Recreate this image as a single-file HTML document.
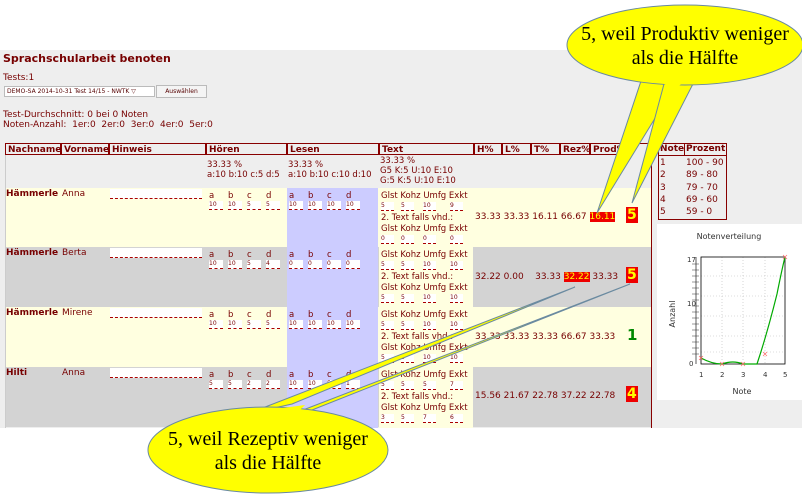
<!DOCTYPE html>
<html><head><meta charset="utf-8"><style>
body{margin:0;width:802px;height:494px;position:relative;overflow:hidden;background:#fff;font-family:"DejaVu Sans","Liberation Sans",sans-serif;color:#700;}
.a{position:absolute;white-space:nowrap;}
.s{font-size:9px;}
.t{font-size:8.5px;line-height:10px;}
.b{font-weight:bold;}
.r{position:absolute;}
.inp{display:inline-block;width:14px;height:8px;background:#fff;border-bottom:1px dashed #a00;font-size:6px;line-height:8px;margin-right:5px;vertical-align:top;}
.q{display:inline-block;width:13px;height:8px;background:#fff;border-bottom:1px dashed #a00;font-size:6px;line-height:8px;vertical-align:top;}
.hd{position:absolute;top:143px;height:12px;border:1px solid #800;font-size:9px;font-weight:bold;line-height:12px;padding-left:2px;box-sizing:border-box;background:#eee;}
.l{display:inline-block;width:19px;}
</style></head><body>
<div class="r" style="left:0;top:50px;width:802px;height:378px;background:#eee"></div>
<div class="a b" style="left:3px;top:52px;font-size:11px">Sprachschularbeit benoten</div>
<div class="a s" style="left:3px;top:73px">Tests:1</div>
<div class="a" style="left:4px;top:86px;width:147px;height:9px;border:1px solid #bbb;background:#fff;font-size:6px;line-height:9px;padding-left:2px;color:#500">DEMO-SA 2014-10-31 Test 14/15 - NWTK ▽</div>
<div class="a" style="left:156px;top:85px;width:49px;height:11px;border:1px solid #bbb;background:#f4f4f4;font-size:6px;line-height:11px;text-align:center;color:#500">Auswählen</div>
<div class="a s" style="left:3px;top:110px;line-height:10px">Test-Durchschnitt: 0 bei 0 Noten<br>Noten-Anzahl: &nbsp;1er:0 &nbsp;2er:0 &nbsp;3er:0 &nbsp;4er:0 &nbsp;5er:0</div>

<div class="hd" style="left:5px;width:56px">Nachname</div>
<div class="hd" style="left:61px;width:48px">Vorname</div>
<div class="hd" style="left:109px;width:97px">Hinweis</div>
<div class="hd" style="left:206px;width:81px">Hören</div>
<div class="hd" style="left:287px;width:92px">Lesen</div>
<div class="hd" style="left:379px;width:95px">Text</div>
<div class="hd" style="left:474px;width:28px">H%</div>
<div class="hd" style="left:502px;width:29px">L%</div>
<div class="hd" style="left:531px;width:29px">T%</div>
<div class="hd" style="left:560px;width:30px">Rez%</div>
<div class="hd" style="left:590px;width:35px">Prod%</div>
<div class="r" style="left:5px;top:155px;width:1px;height:273px;background:#ccc"></div>
<div class="r" style="left:651px;top:143px;width:1px;height:285px;background:#800"></div>
<div class="r" style="left:625px;top:143px;width:26px;height:12px;border-top:1px solid #800;box-sizing:border-box"></div>
<div class="a t" style="left:207px;top:160px">33.33 %<br>a:10 b:10 c:5 d:5</div>
<div class="a t" style="left:288px;top:160px">33.33 %<br>a:10 b:10 c:10 d:10</div>
<div class="a t" style="left:380px;top:156px">33.33 %<br>G5 K:5 U:10 E:10<br>G:5 K:5 U:10 E:10</div>

<div class="r" style="left:6px;top:188px;width:645px;height:59px;background:#ffffe0"></div>
<div class="r" style="left:6px;top:247px;width:645px;height:60px;background:#d3d3d3"></div>
<div class="r" style="left:6px;top:307px;width:645px;height:60px;background:#ffffe0"></div>
<div class="r" style="left:6px;top:367px;width:645px;height:60px;background:#d3d3d3"></div>
<div class="r" style="left:287px;top:188px;width:91px;height:240px;background:#ccf"></div>
<div class="r" style="left:379px;top:188px;width:94px;height:240px;background:#ffffe0"></div>

<div class="a s b" style="left:6px;top:189px">Hämmerle</div><div class="a s" style="left:62px;top:189px">Anna</div>
<div class="a s b" style="left:6px;top:248px">Hämmerle</div><div class="a s" style="left:62px;top:248px">Berta</div>
<div class="a s b" style="left:6px;top:308px">Hämmerle</div><div class="a s" style="left:62px;top:308px">Mirene</div>
<div class="a s b" style="left:6px;top:368px">Hilti</div><div class="a s" style="left:62px;top:368px">Anna</div>
<div class="r" style="left:110px;top:189px;width:92px;height:9px;background:#fff;border-bottom:1px dashed #a00"></div>
<div class="r" style="left:110px;top:248px;width:92px;height:9px;background:#fff;border-bottom:1px dashed #a00"></div>
<div class="r" style="left:110px;top:308px;width:92px;height:9px;background:#fff;border-bottom:1px dashed #a00"></div>
<div class="r" style="left:110px;top:368px;width:92px;height:9px;background:#fff;border-bottom:1px dashed #a00"></div>

<div class="a t" style="left:209px;top:191px"><span class="l">a</span><span class="l">b</span><span class="l">c</span><span class="l">d</span><br><span class="inp">10</span><span class="inp">10</span><span class="inp">5</span><span class="inp">5</span></div>
<div class="a t" style="left:289px;top:191px"><span class="l">a</span><span class="l">b</span><span class="l">c</span><span class="l">d</span><br><span class="inp">10</span><span class="inp">10</span><span class="inp">10</span><span class="inp">10</span></div>
<div class="a t" style="left:209px;top:250px"><span class="l">a</span><span class="l">b</span><span class="l">c</span><span class="l">d</span><br><span class="inp">10</span><span class="inp">10</span><span class="inp">5</span><span class="inp">4</span></div>
<div class="a t" style="left:289px;top:250px"><span class="l">a</span><span class="l">b</span><span class="l">c</span><span class="l">d</span><br><span class="inp">0</span><span class="inp">0</span><span class="inp">0</span><span class="inp">0</span></div>
<div class="a t" style="left:209px;top:310px"><span class="l">a</span><span class="l">b</span><span class="l">c</span><span class="l">d</span><br><span class="inp">10</span><span class="inp">10</span><span class="inp">5</span><span class="inp">5</span></div>
<div class="a t" style="left:289px;top:310px"><span class="l">a</span><span class="l">b</span><span class="l">c</span><span class="l">d</span><br><span class="inp">10</span><span class="inp">10</span><span class="inp">10</span><span class="inp">10</span></div>
<div class="a t" style="left:209px;top:370px"><span class="l">a</span><span class="l">b</span><span class="l">c</span><span class="l">d</span><br><span class="inp">5</span><span class="inp">5</span><span class="inp">2</span><span class="inp">2</span></div>
<div class="a t" style="left:289px;top:370px"><span class="l">a</span><span class="l">b</span><span class="l">c</span><span class="l">d</span><br><span class="inp">10</span><span class="inp">10</span><span class="inp">5</span><span class="inp">1</span></div>

<div class="a t" style="left:381px;top:191px;line-height:11px">Glst Kohz Umfg Exkt<br><span class="q" style="margin-right:7px">5</span><span class="q" style="margin-right:9px">5</span><span class="q" style="margin-right:14px">10</span><span class="q">9</span><br>2. Text falls vhd.:<br>Glst Kohz Umfg Exkt<br><span class="q" style="margin-right:7px">0</span><span class="q" style="margin-right:9px">0</span><span class="q" style="margin-right:14px">0</span><span class="q">0</span></div>
<div class="a t" style="left:381px;top:250px;line-height:11px">Glst Kohz Umfg Exkt<br><span class="q" style="margin-right:7px">5</span><span class="q" style="margin-right:9px">5</span><span class="q" style="margin-right:14px">10</span><span class="q">10</span><br>2. Text falls vhd.:<br>Glst Kohz Umfg Exkt<br><span class="q" style="margin-right:7px">5</span><span class="q" style="margin-right:9px">5</span><span class="q" style="margin-right:14px">10</span><span class="q">10</span></div>
<div class="a t" style="left:381px;top:310px;line-height:11px">Glst Kohz Umfg Exkt<br><span class="q" style="margin-right:7px">5</span><span class="q" style="margin-right:9px">5</span><span class="q" style="margin-right:14px">10</span><span class="q">10</span><br>2. Text falls vhd.:<br>Glst Kohz Umfg Exkt<br><span class="q" style="margin-right:7px">5</span><span class="q" style="margin-right:9px">5</span><span class="q" style="margin-right:14px">10</span><span class="q">10</span></div>
<div class="a t" style="left:381px;top:370px;line-height:11px">Glst Kohz Umfg Exkt<br><span class="q" style="margin-right:7px">5</span><span class="q" style="margin-right:9px">5</span><span class="q" style="margin-right:14px">5</span><span class="q">7</span><br>2. Text falls vhd.:<br>Glst Kohz Umfg Exkt<br><span class="q" style="margin-right:7px">3</span><span class="q" style="margin-right:9px">5</span><span class="q" style="margin-right:14px">7</span><span class="q">6</span></div>

<div class="a s" style="left:475px;top:212px">33.33 33.33 16.11 66.67 <span style="background:#e00;color:#ff0">16.11</span></div>
<div class="a s" style="left:475px;top:272px">32.22 0.00 &nbsp;&nbsp;&nbsp;33.33 <span style="background:#e00;color:#ff0">32.22</span> 33.33</div>
<div class="a s" style="left:475px;top:332px">33.33 33.33 33.33 66.67 33.33</div>
<div class="a s" style="left:475px;top:391px">15.56 21.67 22.78 37.22 22.78</div>
<div class="a b" style="left:626px;top:207px;font-size:14px;line-height:16px;background:#e00;color:#ff0;padding:0 1px">5</div>
<div class="a b" style="left:626px;top:267px;font-size:14px;line-height:16px;background:#e00;color:#ff0;padding:0 1px">5</div>
<div class="a b" style="left:627px;top:327px;font-size:15px;line-height:16px;color:#080">1</div>
<div class="a b" style="left:626px;top:386px;font-size:14px;line-height:16px;background:#e00;color:#ff0;padding:0 1px">4</div>

<div class="r" style="left:658px;top:143px;width:69px;height:77px;border:1px solid #800;box-sizing:border-box"></div>
<div class="a s b" style="left:660px;top:144px">Note</div><div class="a s b" style="left:686px;top:144px">Prozent</div>
<div class="r" style="left:684px;top:144px;width:1px;height:11px;background:#800"></div>
<div class="r" style="left:659px;top:155px;width:67px;height:1px;background:#800"></div>
<div class="a s" style="left:660px;top:157px;line-height:12.3px">1<br>2<br>3<br>4<br>5</div>
<div class="a s" style="left:686px;top:157px;line-height:12.3px">100 - 90<br>89 - 80<br>79 - 70<br>69 - 60<br>59 - 0</div>

<svg class="r" style="left:657px;top:224px" width="145" height="176" viewBox="0 0 145 176">
<rect width="145" height="176" fill="#fff"/>
<text x="72" y="15" font-size="8" fill="#333" text-anchor="middle" font-family="DejaVu Sans">Notenverteilung</text>
<text x="18" y="90" font-size="8" fill="#333" text-anchor="middle" transform="rotate(-90 18 90)" font-family="DejaVu Sans">Anzahl</text>
<text x="85" y="170" font-size="8" fill="#333" text-anchor="middle" font-family="DejaVu Sans">Note</text>
<g stroke="#bbb" stroke-dasharray="1,2" stroke-width="0.6">
<line x1="65" y1="33" x2="65" y2="140"/><line x1="86" y1="33" x2="86" y2="140"/><line x1="108" y1="33" x2="108" y2="140"/>
<line x1="44" y1="52" x2="128" y2="52"/><line x1="44" y1="72" x2="128" y2="72"/><line x1="44" y1="92" x2="128" y2="92"/><line x1="44" y1="112" x2="128" y2="112"/><line x1="44" y1="128" x2="128" y2="128"/>
</g>
<rect x="44" y="33" width="84" height="107" fill="none" stroke="#000" stroke-width="0.8"/>
<line x1="39" y1="33" x2="39" y2="140" stroke="#333" stroke-width="0.8"/>
<g stroke="#333" stroke-width="0.6"><path d="M35 40h7M35 46h7M35 52h7M35 58h7M35 64h7M35 70h7M35 76h7M35 82h7M35 88h7M35 94h7M35 100h7M35 106h7M35 112h7M35 118h7M35 124h7M35 130h7"/></g>
<g font-size="7" fill="#333" font-family="DejaVu Sans">
<text x="32" y="142">0</text><text x="30" y="82">10</text><text x="30" y="38">17</text>
<text x="42" y="153">1</text><text x="63" y="153">2</text><text x="84" y="153">3</text><text x="106" y="153">4</text><text x="126" y="153">5</text>
</g>
<path d="M44 134 Q55 140 65 140 Q76 136 86 140 L100 140 Q110 110 120 70 Q125 45 128 33" fill="none" stroke="#0a0" stroke-width="1.2"/>
<g stroke="#f66" stroke-width="0.7"><path d="M42 132l4 4m0-4l-4 4M63 138l4 4m0-4l-4 4M84 138l4 4m0-4l-4 4M106 128l4 4m0-4l-4 4M126 31l4 4m0-4l-4 4"/></g>
</svg>

<svg class="r" style="left:0;top:0" width="802" height="494">
<g fill="#ff0" stroke="#6a8aa0" stroke-width="1">
<polygon points="642,78 676,84 597,213"/>
<polygon points="664,84 695,80 632,203"/>
<ellipse cx="685" cy="45" rx="118" ry="40"/>
<polygon points="247,414 292,404 575,287"/>
<polygon points="277,420 312,410 630,284"/>
<ellipse cx="268" cy="450" rx="120" ry="43"/>
</g>
<g fill="#ff0"><polygon points="652,76 690,78 673,90"/><polygon points="252,412 305,405 290,420"/></g>
<g font-family="Liberation Serif" font-size="20" fill="#000" text-anchor="middle">
<text x="685" y="40">5, weil Produktiv weniger</text><text x="685" y="64">als die Hälfte</text>
<text x="268" y="445">5, weil Rezeptiv weniger</text><text x="268" y="469">als die Hälfte</text>
</g>
</svg>
</body></html>
